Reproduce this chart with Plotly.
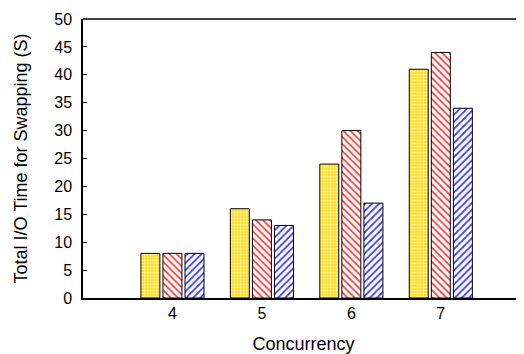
import plotly.graph_objects as go

concurrency = [4, 5, 6, 7]
series_names = ["A", "B", "C"]
yellow_vals = [8, 16, 24, 41]
red_vals = [8, 14, 30, 44]
blue_vals = [8, 13, 17, 34]
y_ticks = [0, 5, 10, 15, 20, 25, 30, 35, 40, 45, 50]

FONT = "Liberation Sans, Arial, sans-serif"

fig = go.Figure()
fig.add_bar(
    x=concurrency, y=yellow_vals, name=series_names[0],
    marker=dict(color="#FFD700", line=dict(color="black", width=1),
                pattern=dict(shape=".", fgcolor="#FFF2A0", bgcolor="#FFD700",
                             size=3, solidity=0.5, fillmode="replace")),
)
fig.add_bar(
    x=concurrency, y=red_vals, name=series_names[1],
    marker=dict(color="white", line=dict(color="black", width=1),
                pattern=dict(shape="\\", fgcolor="#FF4040", bgcolor="white",
                             size=5, solidity=0.35, fillmode="replace")),
)
fig.add_bar(
    x=concurrency, y=blue_vals, name=series_names[2],
    marker=dict(color="white", line=dict(color="black", width=1),
                pattern=dict(shape="/", fgcolor="#4040FF", bgcolor="white",
                             size=5, solidity=0.35, fillmode="replace")),
)

fig.update_layout(
    width=516, height=346,
    margin=dict(l=75, r=0, t=11, b=56, autoexpand=False),
    barmode="group", bargap=0.26, bargroupgap=0.14,
    plot_bgcolor="white", paper_bgcolor="white",
    showlegend=False,
    font=dict(family=FONT, size=16, color="black"),
    xaxis=dict(
        range=[3.0, 7.93], tickmode="array", tickvals=concurrency,
        ticktext=[str(c) for c in concurrency],
        showline=True, linecolor="black", linewidth=1.5,
        ticks="", showgrid=False, zeroline=False,
        title=dict(text="Concurrency", font=dict(size=18), standoff=16),
        tickfont=dict(size=16),
    ),
    yaxis=dict(
        range=[0, 50], tickmode="array", tickvals=y_ticks,
        showline=True, linecolor="black", linewidth=1.5,
        ticks="inside", ticklen=4, tickcolor="black",
        ticklabelstandoff=6,
        showgrid=False, zeroline=False,
        title=dict(text="Total I/O Time for Swapping (S)", font=dict(size=18), standoff=22),
        tickfont=dict(size=16),
    ),
    shapes=[dict(type="line", xref="paper", yref="paper", x0=0, x1=1, y0=1, y1=1,
                 line=dict(color="black", width=1.5))],
)

fig.write_html("out.html")
